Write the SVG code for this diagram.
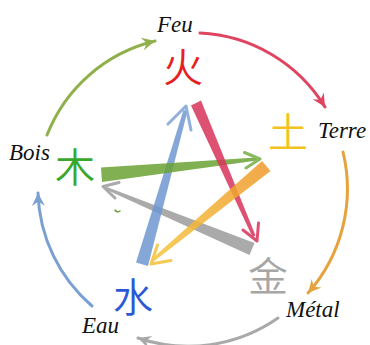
<svg xmlns="http://www.w3.org/2000/svg" width="370" height="345" viewBox="0 0 370 345">
<defs>
<style>
.lbl{font-family:"Liberation Serif",serif;font-style:italic;font-size:23px;fill:#111}
.cjk{font-family:"Noto Sans CJK SC","Noto Sans CJK JP",sans-serif;font-size:40px;font-weight:350;text-anchor:middle}
.arc{fill:none;stroke-width:3;stroke-linecap:round}
.head{fill:none;stroke-width:3;stroke-linecap:round;stroke-linejoin:round}
.brush{opacity:0.85}
</style>
<marker id="mG" markerUnits="userSpaceOnUse" viewBox="-14 -8 16 16" markerWidth="16" markerHeight="16" refX="0" refY="0" orient="auto"><path d="M0,0 L-13,-6.5 L-8.5,0 L-13,6.5 z" fill="#8fb04a"/></marker>
<marker id="mR" markerUnits="userSpaceOnUse" viewBox="-14 -8 16 16" markerWidth="16" markerHeight="16" refX="0" refY="0" orient="auto"><path d="M0,0 L-13,-6.5 L-8.5,0 L-13,6.5 z" fill="#df4560"/></marker>
<marker id="mO" markerUnits="userSpaceOnUse" viewBox="-14 -8 16 16" markerWidth="16" markerHeight="16" refX="0" refY="0" orient="auto"><path d="M0,0 L-13,-6.5 L-8.5,0 L-13,6.5 z" fill="#e6a23c"/></marker>
<marker id="mGy" markerUnits="userSpaceOnUse" viewBox="-14 -8 16 16" markerWidth="16" markerHeight="16" refX="0" refY="0" orient="auto"><path d="M0,0 L-13,-6.5 L-8.5,0 L-13,6.5 z" fill="#a9a9a9"/></marker>
<marker id="mB" markerUnits="userSpaceOnUse" viewBox="-14 -8 16 16" markerWidth="16" markerHeight="16" refX="0" refY="0" orient="auto"><path d="M0,0 L-13,-6.5 L-8.5,0 L-13,6.5 z" fill="#7aa0d2"/></marker>
<linearGradient id="gO" gradientUnits="userSpaceOnUse" x1="266" y1="166" x2="151" y2="264">
<stop offset="0" stop-color="#f09a2a"/><stop offset="1" stop-color="#f6c840"/>
</linearGradient>
</defs>
<rect width="370" height="345" fill="#fff"/>

<g id="connectors">
<path class="arc" d="M47,135 A155,155 0 0 1 155,41" stroke="#8fb04a" marker-end="url(#mG)"/>
<path class="arc" d="M200,33 A155,155 0 0 1 325,107" stroke="#df4560" marker-end="url(#mR)"/>
<path class="arc" d="M343,152 A157,157 0 0 1 308,293" stroke="#e6a23c" marker-end="url(#mO)"/>
<path class="arc" d="M278,318 A157,157 0 0 1 138,338" stroke="#a9a9a9" marker-end="url(#mGy)"/>
<path class="arc" d="M92,306 A155,155 0 0 1 38,193" stroke="#7aa0d2" marker-end="url(#mB)"/>

<g class="brush">
<polygon points="254.5,243 249.5,255 107,190 105.5,186.5" fill="#9c9c9c"/>
<polyline class="head" points="119,182.5 103,186.5 115,198" stroke="#9c9c9c"/>
</g>
<g class="brush">
<polygon points="148,266 136,262.5 183.5,110 187.5,111" fill="#6f98d2"/>
<polyline class="head" points="168,124 186,106 191,130" stroke="#7ea3d6"/>
</g>
<g class="brush">
<polygon points="101,167.5 102,182 257,160.5 256.5,157.5" fill="#6aa334"/>
<polyline class="head" points="244.5,152.5 260,159 246,168" stroke="#76ad45"/>
</g>
<g class="brush">
<polygon points="191,105.5 201,100.5 255.5,235.5 252.5,237" fill="#d8345a"/>
<polyline class="head" points="243,230 257,241 258.5,223" stroke="#d8345a"/>
</g>
<g class="brush">
<polygon points="262,161 270.5,171 153,262 151,259.5" fill="url(#gO)"/>
<polyline class="head" points="157.5,245 151,264 171,260.5" stroke="#f4c035"/>
</g>
</g>

<g id="feu">
<text class="lbl" x="157" y="32">Feu</text>
<text class="cjk" x="183" y="82" fill="#e6201e">火</text>
</g>
<g id="terre">
<text class="lbl" x="318" y="138">Terre</text>
<text class="cjk" x="288" y="147" fill="#f2c31c">土</text>
</g>
<g id="metal">
<text class="lbl" x="286" y="317">Métal</text>
<text class="cjk" x="268" y="291" fill="#a6a6a6">金</text>
</g>
<g id="eau">
<text class="lbl" x="82" y="333">Eau</text>
<text class="cjk" x="133" y="312" fill="#2a58d6">水</text>
</g>
<g id="bois">
<text class="lbl" x="9" y="160">Bois</text>
<text class="cjk" x="75" y="182" fill="#38a82c">木</text>
<path d="M115,210 Q117,213 120,211" fill="none" stroke="#6aa334" stroke-width="1.5" stroke-linecap="round"/>
</g>
</svg>
